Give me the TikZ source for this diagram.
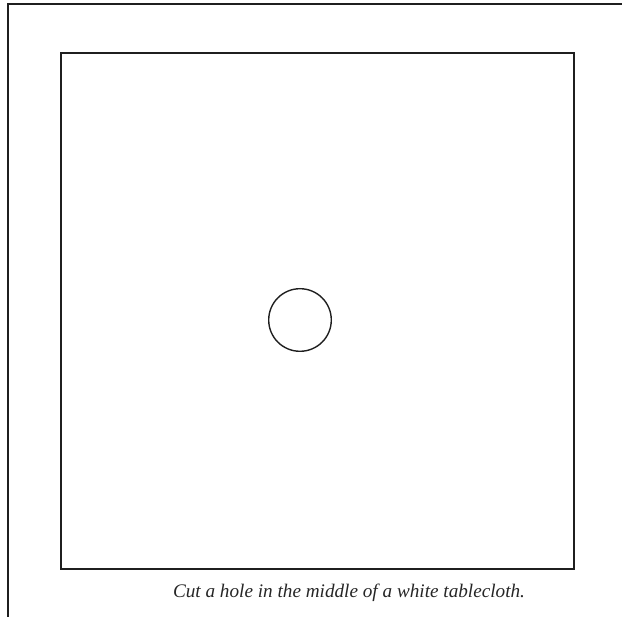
\documentclass[tikz,border=0pt]{standalone}
\usepackage{fontspec}
\setmainfont{Liberation Serif}
\begin{document}
\begin{tikzpicture}[x=1pt,y=-1pt,
  frameline/.style={line width=2pt, draw=black!88},
  sqline/.style={line width=1.7pt, draw=black!88},
  holeline/.style={line width=1.4pt, draw=black!88},
  captext/.style={font=\fontsize{19.2}{22}\selectfont\itshape, text=black!85, inner sep=0pt}]
\useasboundingbox (0,0) rectangle (622,617);
\coordinate (ftl) at (8,4);
\coordinate (ftr) at (622,4);
\coordinate (fbl) at (8,617);
\draw[frameline] (ftr) -- (ftl) -- (fbl);
\draw[sqline] (61,53) rectangle (574,569);
\draw[holeline] (300,320) circle (31.3);
\node[captext] (cap) at (349,593) {Cut a hole in the middle of a white tablecloth.};
\end{tikzpicture}
\end{document}
